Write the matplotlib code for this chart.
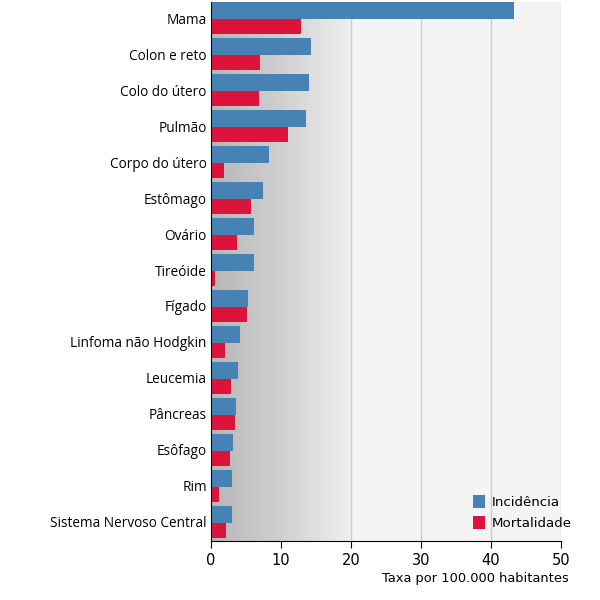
import numpy as np
import matplotlib
matplotlib.use('Agg')
import matplotlib.pyplot as plt
from matplotlib.colors import LinearSegmentedColormap

# dados
categorias = ['Mama', 'Colon e reto', 'Colo do útero', 'Pulmão', 'Corpo do útero',
              'Estômago', 'Ovário', 'Tireóide', 'Fígado', 'Linfoma não Hodgkin',
              'Leucemia', 'Pâncreas', 'Esôfago', 'Rim', 'Sistema Nervoso Central']
incidencia = [43.3, 14.3, 14.0, 13.6, 8.3, 7.4, 6.1, 6.1, 5.3, 4.1, 3.9, 3.6, 3.1, 3.0, 3.0]
mortalidade = [12.9, 7.0, 6.9, 11.0, 1.9, 5.7, 3.7, 0.6, 5.1, 2.0, 2.9, 3.4, 2.7, 1.1, 2.1]
xticks = [0, 10, 20, 30, 40, 50]

fig = plt.figure(figsize=(6, 6), dpi=100)
ax = fig.add_axes([0.3517, 0.0983, 0.5833, 0.898])
ax.set_facecolor('#f4f4f4')

y = np.arange(len(categorias))
h_inc = 0.47
h_mort = 0.42

# fundo com degradê de 0 a 20
cmap = LinearSegmentedColormap.from_list('fundo', ['#b6b6b6', '#d0d0d0', '#efefef'])
grad = np.linspace(0, 1, 256).reshape(1, -1)
ax.imshow(grad, cmap=cmap, aspect='auto', extent=[0, 20, 14.5, -h_inc], zorder=0)
ax.set_xlim(0, 50)
ax.set_ylim(14.5, -h_inc)

for xv in xticks[1:]:
    ax.axvline(xv, color='#cccccc', lw=1, zorder=1)

ax.barh(y - h_inc / 2, incidencia, height=h_inc, color='#4682b4', label='Incidência', zorder=2)
ax.barh(y + h_mort / 2, mortalidade, height=h_mort, color='#dc143c', label='Mortalidade', zorder=2)

ax.set_yticks(y - 0.03)
ax.set_yticklabels(categorias, fontfamily='Open Sans', fontsize=9.8)
ax.tick_params(axis='y', length=0, pad=3)
ax.set_xticks(xticks)
ax.tick_params(axis='x', length=5, labelsize=10.5, color='black')

for s in ['top', 'right']:
    ax.spines[s].set_visible(False)
ax.spines['left'].set_color('black')
ax.spines['bottom'].set_color('black')

ax.set_xlabel('Taxa por 100.000 habitantes', fontsize=9.4)
ax.xaxis.set_label_coords(1.022, -0.058)
ax.xaxis.label.set_ha('right')

leg = ax.legend(loc='lower right', frameon=False, fontsize=9.6, handlelength=0.95,
                handleheight=1.15, handletextpad=0.5, borderaxespad=0.3,
                labelspacing=0.5, bbox_to_anchor=(1.058, 0.003))

fig.savefig('out.png', dpi=100)
